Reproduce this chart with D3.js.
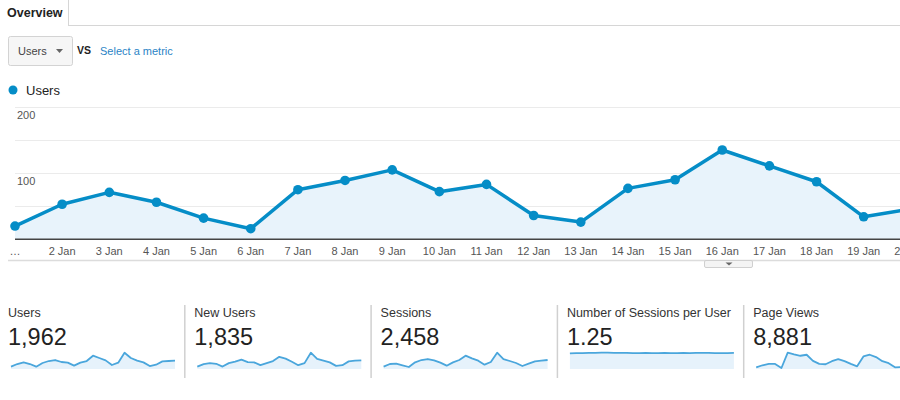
<!DOCTYPE html>
<html>
<head>
<meta charset="utf-8">
<script src="https://cdn.jsdelivr.net/npm/d3@7"></script>
<style>
  html, body { margin: 0; padding: 0; background: #fff; }
  svg { display: block; }
  text { font-family: Arial, "Liberation Sans", sans-serif; }
</style>
</head>
<body>
<svg id="chart" width="900" height="400"></svg>
<script>
// ---------- DATA ----------
const days = ["1 Jan","2 Jan","3 Jan","4 Jan","5 Jan","6 Jan","7 Jan","8 Jan","9 Jan","10 Jan",
              "11 Jan","12 Jan","13 Jan","14 Jan","15 Jan","16 Jan","17 Jan","18 Jan","19 Jan","20 Jan"];
const users = [20, 53, 71, 56, 32, 16, 75, 89, 105, 72, 83, 36, 26, 77, 90, 135, 111, 87, 34, 46];
const yTickLabels = [100, 200];
const yGrid = [50, 100, 150, 200];

const metricNames = ["Users", "New Users", "Sessions", "Number of Sessions per User", "Page Views"];
const metricTotals = ["1,962", "1,835", "2,458", "1.25", "8,881"];
const sparkUsers = [7,15,20,15,7,18,24,27,21,19,10,19,24,40,33,26,12,19,49,33,25,20,9,13,23,24,25];
const sparkNewUsers = [7,14,17,15,7,17,21,27,20,19,11,17,23,35,30,21,11,17,47,29,24,19,9,11,22,24,25];
const sparkSessions = [7,15,16,11,6,20,27,30,26,19,10,20,27,40,32,25,13,21,49,30,24,18,9,16,23,25,27];
const sparkSessionsPerUser = [1.22,1.23,1.24,1.25,1.26,1.27,1.27,1.26,1.25,1.25,1.24,1.24,1.25,1.24,
                              1.23,1.25,1.24,1.23,1.25,1.24,1.25,1.26,1.25,1.24,1.23,1.24,1.25];
const sparkPageViews = [5,11,15,15,3,48,43,39,42,24,15,14,23,29,23,15,8,37,42,35,23,17,5,6];
const sparkSeries = [sparkUsers, sparkNewUsers, sparkSessions, sparkSessionsPerUser, sparkPageViews];
const sparkLength = 27;

// ---------- DRAW ----------
const svg = d3.select("#chart");
const blue = "#058dc7";

// Tab
svg.append("line").attr("x1", 68).attr("x2", 900).attr("y1", 25.5).attr("y2", 25.5)
  .attr("stroke", "#d6d6d6").attr("stroke-width", 1);
svg.append("line").attr("x1", 68.5).attr("x2", 68.5).attr("y1", 0).attr("y2", 26)
  .attr("stroke", "#d6d6d6").attr("stroke-width", 1);
svg.append("text").attr("x", 7).attr("y", 17).text("Overview")
  .attr("font-size", 12.5).attr("font-weight", "bold").attr("fill", "#222");

// Dropdown
svg.append("rect").attr("x", 8.5).attr("y", 36.5).attr("width", 64).attr("height", 29).attr("rx", 2)
  .attr("fill", "#f6f6f6").attr("stroke", "#d3d3d3");
svg.append("text").attr("x", 18).attr("y", 55).text("Users")
  .attr("font-size", 11).attr("fill", "#444");
svg.append("path").attr("d", "M56,49 L63,49 L59.5,53 Z").attr("fill", "#666");
svg.append("text").attr("x", 77).attr("y", 54).text("VS")
  .attr("font-size", 10.5).attr("font-weight", "bold").attr("fill", "#222");
svg.append("text").attr("x", 100).attr("y", 55).text("Select a metric")
  .attr("font-size", 11).attr("fill", "#2a84c6");

// Legend
svg.append("circle").attr("cx", 13).attr("cy", 90).attr("r", 4.5).attr("fill", blue);
svg.append("text").attr("x", 26).attr("y", 95).text("Users")
  .attr("font-size", 13).attr("fill", "#222");

// Scales
const x = d3.scaleLinear().domain([0, days.length - 1]).range([15, 15 + 47.15 * (days.length - 1)]);
const y = d3.scaleLinear().domain([0, 200]).range([239.3, 107]);

// Grid
svg.append("g").selectAll("line").data(yGrid).join("line")
  .attr("x1", 15).attr("x2", 900)
  .attr("y1", d => Math.round(y(d)) + 0.5).attr("y2", d => Math.round(y(d)) + 0.5)
  .attr("stroke", "#ebebeb").attr("stroke-width", 1);

// Y tick labels (below gridlines)
svg.append("g").selectAll("text").data(yTickLabels).join("text")
  .attr("x", 17).attr("y", d => y(d) + 12)
  .text(d => d).attr("font-size", 11).attr("fill", "#555");

// Area
const area = d3.area().x((d, i) => x(i)).y0(y(0)).y1(d => y(d));
svg.append("path").datum(users).attr("d", area).attr("fill", "#e8f3fb");

// Baseline axis
svg.append("line").attr("x1", 15).attr("x2", 900).attr("y1", y(0)).attr("y2", y(0))
  .attr("stroke", "#444").attr("stroke-width", 1.5);

// Line
const line = d3.line().x((d, i) => x(i)).y(d => y(d));
svg.append("path").datum(users).attr("d", line)
  .attr("fill", "none").attr("stroke", blue).attr("stroke-width", 3.5)
  .attr("stroke-linejoin", "round");

// Dots
svg.append("g").selectAll("circle").data(users).join("circle")
  .attr("cx", (d, i) => x(i)).attr("cy", d => y(d)).attr("r", 4.8).attr("fill", blue);

// X labels
svg.append("g").selectAll("text").data(days).join("text")
  .attr("x", (d, i) => x(i)).attr("y", 255)
  .attr("text-anchor", "middle")
  .text((d, i) => i === 0 ? "…" : d)
  .attr("font-size", 11).attr("fill", "#555");

// Lower border and handle
svg.append("line").attr("x1", 8).attr("x2", 900).attr("y1", 260.5).attr("y2", 260.5)
  .attr("stroke", "#dcdcdc").attr("stroke-width", 1.5);
svg.append("rect").attr("x", 704.5).attr("y", 260.5).attr("width", 48).attr("height", 7).attr("rx", 1.5)
  .attr("fill", "#f4f4f4").attr("stroke", "#d0d0d0");
svg.append("path").attr("d", "M725.5,262.5 L732.5,262.5 L729,265.5 Z").attr("fill", "#666");

// Scorecards
const cardX = d3.range(metricNames.length).map(i => 8 + i * 186.3);
const sx = d3.scaleLinear().domain([0, sparkLength - 1]);

metricNames.forEach((name, i) => {
  const x0 = cardX[i];
  const g = svg.append("g");
  if (i > 0) {
    g.append("line").attr("x1", x0 - 9.5).attr("x2", x0 - 9.5).attr("y1", 305).attr("y2", 378)
      .attr("stroke", "#d0d0d0").attr("stroke-width", 1.5);
  }
  g.append("text").attr("x", x0).attr("y", 317).text(name)
    .attr("font-family", "Roboto, Arial, sans-serif").attr("font-size", 12.5).attr("fill", "#333");
  g.append("text").attr("x", x0).attr("y", 345).text(metricTotals[i])
    .attr("font-family", "Roboto, Arial, sans-serif").attr("font-size", 23.5).attr("fill", "#222");

  const data = sparkSeries[i];
  const xs = sx.copy().range([x0 + 3, x0 + 167]);
  const ys = d3.scaleLinear().domain([0, d3.max(data)]).range([369, 352.7]);
  g.append("path").datum(data)
    .attr("d", d3.area().x((d, j) => xs(j)).y0(369).y1(d => ys(d)))
    .attr("fill", "#e6f2fb");
  g.append("path").datum(data)
    .attr("d", d3.line().x((d, j) => xs(j)).y(d => ys(d)))
    .attr("fill", "none").attr("stroke", "#4aa6dc").attr("stroke-width", 1.8)
    .attr("stroke-linejoin", "round");
});
</script>
</body>
</html>
